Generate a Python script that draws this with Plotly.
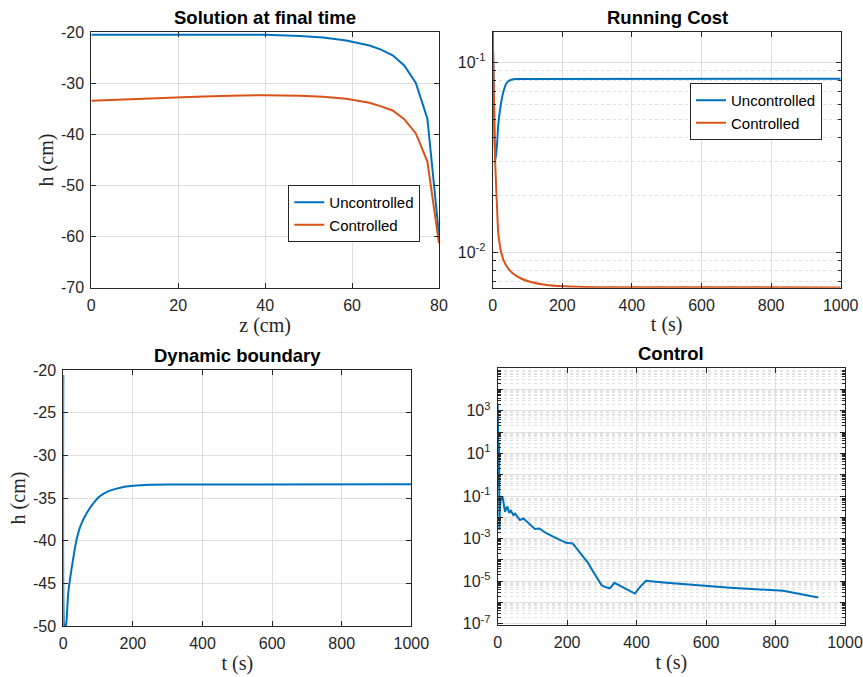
import plotly.graph_objects as go

# ---------------- data ----------------
# Panel 1: solution at final time
z_cm = [0, 8, 16, 24, 32, 40, 48, 53.33, 58.67, 64, 66.67, 69.33, 72, 74.67, 77.33, 80]
h_uncontrolled = [-20.5, -20.5, -20.5, -20.45, -20.45, -20.5, -20.7, -21.0, -21.6, -22.6,
                  -23.4, -24.5, -26.5, -29.9, -36.9, -59.7]
h_controlled = [-33.4, -33.1, -32.85, -32.6, -32.4, -32.3, -32.4, -32.6, -33.0, -33.8,
                -34.5, -35.3, -37.0, -39.8, -45.3, -61.3]

# Panel 2: running cost
t_cost_unc = [0, 3, 7, 12, 16, 21, 30, 40, 50, 60, 70, 1000]
cost_unc = [0.144, 0.075, 0.030, 0.036, 0.047, 0.056, 0.069, 0.0776, 0.0805, 0.0813, 0.0816, 0.0817]
t_cost_ctl = [0, 3, 7, 12, 16, 22, 31, 45, 59, 80, 107, 150, 203, 300, 1000]
cost_ctl = [0.144, 0.075, 0.030, 0.018, 0.0126, 0.0105, 0.0091, 0.0082, 0.0077, 0.0073,
            0.0070, 0.00675, 0.00662, 0.00655, 0.00653]

# Panel 3: dynamic boundary
t_bnd = [0, 2, 5, 9, 14, 19, 28, 38, 50, 67, 85, 105, 130, 153, 180, 201, 249, 300, 1000]
h_bnd = [-20.6, -50.0, -50.4, -49.5, -46.2, -44.6, -42.2, -39.9, -38.2, -36.8, -35.7, -34.8,
         -34.2, -33.9, -33.65, -33.55, -33.45, -33.42, -33.4]

# Panel 4: control
t_ctrl = [0, 1, 2, 3, 4, 5, 6, 8.6, 11, 14, 18, 21, 25, 28, 31, 34, 37, 40, 45, 50, 57, 64,
          74, 84, 93, 107, 120, 141, 170, 197, 216, 227, 251, 261, 275, 290, 299, 309, 323,
          336, 357, 381, 395, 410, 427, 477, 573, 669, 822, 923]
u_ctrl = [2.0e3, 3.2, 6.3e2, 0.25, 32, 2.5e-3, 1.6e-2, 0.10, 6.3e-2, 9.3e-2, 3.2e-2, 1.8e-2,
          2.8e-2, 3.2e-2, 2.0e-2, 1.6e-2, 2.2e-2, 1.8e-2, 1.26e-2, 1.5e-2, 1.0e-2, 7.4e-3,
          8.9e-3, 6.3e-3, 4.3e-3, 2.8e-3, 3.0e-3, 1.74e-3, 1.02e-3, 6.3e-4, 5.9e-4, 3.5e-4,
          1.17e-4, 6.8e-5, 2.75e-5, 1.12e-5, 6.5e-6, 5.4e-6, 4.6e-6, 8.3e-6, 5.4e-6, 3.5e-6,
          2.6e-6, 5.4e-6, 1.05e-5, 8.7e-6, 6.5e-6, 4.9e-6, 3.5e-6, 1.7e-6]

# tick definitions
h_ticks_top = [-70, -60, -50, -40, -30, -20]
z_ticks = [0, 20, 40, 60, 80]
t_ticks = [0, 200, 400, 600, 800, 1000]
h_ticks_bot = [-50, -45, -40, -35, -30, -25, -20]
cost_ticks = [0.01, 0.1]
cost_ticktext = ["10<sup>-2</sup>", "10<sup>-1</sup>"]
ctrl_decades = list(range(-7, 6))
ctrl_labelled = [-7, -5, -3, -1, 1, 3]

# ---------------- styling ----------------
BLUE = "#0072BD"
ORANGE = "#D95319"
AX = "#262626"
GRID = "#dfdfdf"
SANS = "Liberation Sans, Arial, sans-serif"
SERIF = "Liberation Serif, Times New Roman, serif"
W, H = 863, 677


def px_x(a, b):
    return [a / W, b / W]


def px_y(top, bottom):
    return [(H - bottom) / H, (H - top) / H]


fig = go.Figure()

fig.add_trace(go.Scatter(x=z_cm, y=h_uncontrolled, mode="lines", name="Uncontrolled",
                         line=dict(color=BLUE, width=2), xaxis="x", yaxis="y", legend="legend"))
fig.add_trace(go.Scatter(x=z_cm, y=h_controlled, mode="lines", name="Controlled",
                         line=dict(color=ORANGE, width=2), xaxis="x", yaxis="y", legend="legend"))
fig.add_trace(go.Scatter(x=t_cost_unc, y=cost_unc, mode="lines", name="Uncontrolled",
                         line=dict(color=BLUE, width=2, shape="spline", smoothing=0.6),
                         xaxis="x2", yaxis="y2", legend="legend2"))
fig.add_trace(go.Scatter(x=t_cost_ctl, y=cost_ctl, mode="lines", name="Controlled",
                         line=dict(color=ORANGE, width=2, shape="spline", smoothing=0.6),
                         xaxis="x2", yaxis="y2", legend="legend2"))
fig.add_trace(go.Scatter(x=t_bnd, y=h_bnd, mode="lines", showlegend=False,
                         line=dict(color=BLUE, width=2, shape="spline", smoothing=0.5),
                         xaxis="x3", yaxis="y3"))
fig.add_trace(go.Scatter(x=t_ctrl, y=u_ctrl, mode="lines", showlegend=False,
                         line=dict(color=BLUE, width=2), xaxis="x4", yaxis="y4"))

tickfont = dict(family=SANS, size=16, color=AX)
titlefont = dict(family=SERIF, size=20, color=AX)


def base_axis(**kw):
    d = dict(showline=True, linecolor=AX, linewidth=1, mirror="ticks", ticks="inside",
             ticklen=5, tickcolor=AX, showgrid=True, gridcolor=GRID, gridwidth=1,
             zeroline=False, tickfont=tickfont, title_font=titlefont, automargin=False,
             ticklabelstandoff=3)
    d.update(kw)
    return d


minor_cost = [m * 10.0 ** d for d in (-3, -2) for m in range(2, 10) if 0.00651 < m * 10.0 ** d < 0.144]
minor_ctrl = [m * 10.0 ** d for d in range(-8, 5) for m in range(2, 10)]

fig.update_layout(
    width=W, height=H, margin=dict(l=0, r=0, t=0, b=0, autoexpand=False),
    paper_bgcolor="white", plot_bgcolor="white",
    xaxis=base_axis(domain=px_x(91.3, 439), anchor="y", range=[0, 80], tickvals=z_ticks,
                    title=dict(text="z (cm)", standoff=4)),
    yaxis=base_axis(domain=px_y(32.3, 287.7), anchor="x", range=[-70, -20], tickvals=h_ticks_top,
                    ticktext=[str(v) for v in h_ticks_top],
                    title=dict(text="h (cm)", standoff=1)),
    xaxis2=base_axis(domain=px_x(492.7, 840.7), anchor="y2", range=[0, 1000], tickvals=t_ticks,
                     title=dict(text="t (s)", standoff=4)),
    yaxis2=base_axis(domain=px_y(32, 287.7), anchor="x2", type="log",
                     range=[-2.1864, -0.8416], tickvals=cost_ticks, ticktext=cost_ticktext,
                     minor=dict(tickvals=minor_cost, ticks="inside", ticklen=3, tickcolor=AX,
                                showgrid=True, gridcolor=GRID, griddash="dot")),
    xaxis3=base_axis(domain=px_x(63.3, 411.3), anchor="y3", range=[0, 1000], tickvals=t_ticks,
                     title=dict(text="t (s)", standoff=4)),
    yaxis3=base_axis(domain=px_y(370, 626), anchor="x3", range=[-50, -20], tickvals=h_ticks_bot,
                     ticktext=[str(v) for v in h_ticks_bot],
                     title=dict(text="h (cm)", standoff=1)),
    xaxis4=base_axis(domain=px_x(497.7, 845), anchor="y4", range=[0, 1000], tickvals=t_ticks,
                     title=dict(text="t (s)", standoff=4)),
    yaxis4=base_axis(domain=px_y(368.3, 625), anchor="x4", type="log", range=[-7.06, 5],
                     tickvals=[10.0 ** d for d in ctrl_decades],
                     ticktext=[("10<sup>%d</sup>" % d) if d in ctrl_labelled else "" for d in ctrl_decades],
                     minor=dict(tickvals=minor_ctrl, ticks="inside", ticklen=3, tickcolor=AX,
                                showgrid=True, gridcolor="#e2e2e2", griddash="dot")),
    legend=dict(x=288.3 / W, y=(H - 185) / H, xanchor="left", yanchor="top",
                bgcolor="white", bordercolor=AX, borderwidth=1,
                font=dict(family=SANS, size=15, color="black"), tracegroupgap=0,
                itemwidth=30),
    legend2=dict(x=690 / W, y=(H - 83) / H, xanchor="left", yanchor="top",
                 bgcolor="white", bordercolor=AX, borderwidth=1,
                 font=dict(family=SANS, size=15, color="black"), tracegroupgap=0,
                 itemwidth=30),
)

titles = [("Solution at final time", 265, 18), ("Running Cost", 667, 18),
          ("Dynamic boundary", 237, 356), ("Control", 671, 354)]
for text, cx, cy in titles:
    fig.add_annotation(text=text, x=cx / W, y=(H - cy) / H, xref="paper", yref="paper",
                       showarrow=False, xanchor="center", yanchor="middle",
                       font=dict(family=SANS, size=18.5, color="black", weight="bold"))

fig.write_html("out.html")
